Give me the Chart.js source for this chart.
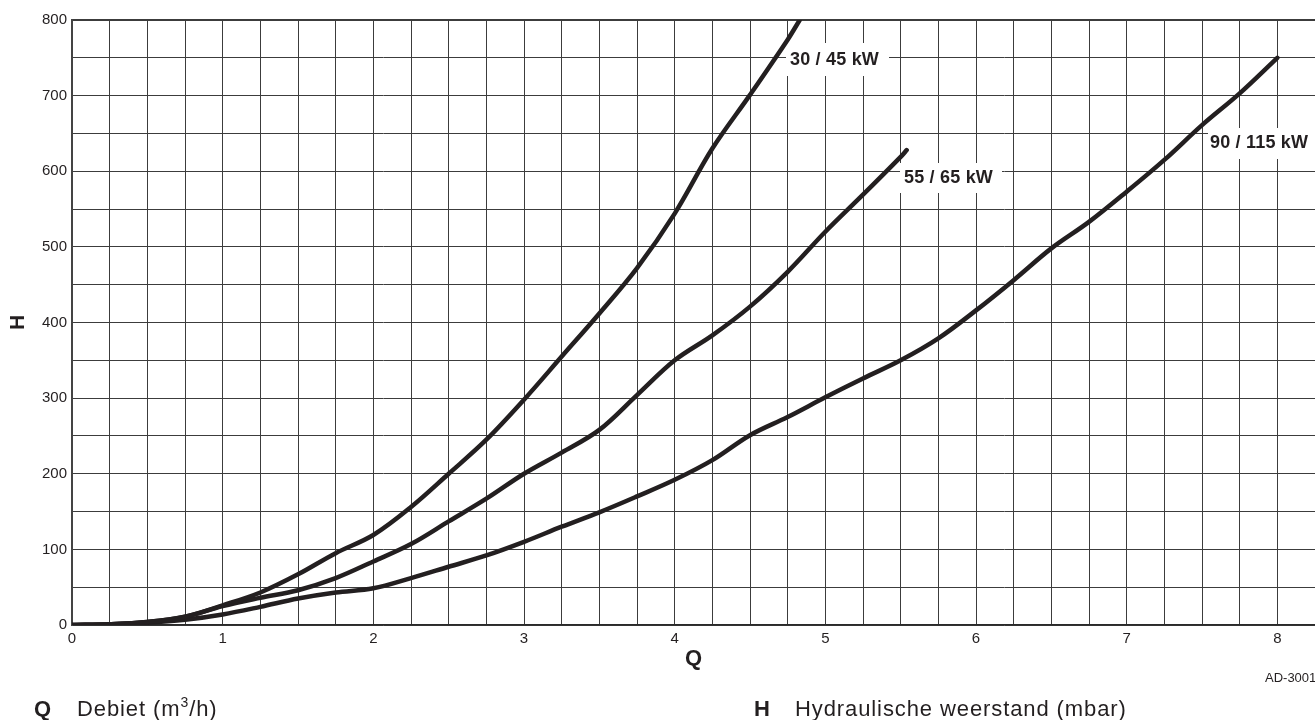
<!DOCTYPE html>
<html><head><meta charset="utf-8">
<script src="https://cdn.jsdelivr.net/npm/chart.js@4.4.1/dist/chart.umd.min.js"></script>
<style>
html,body{margin:0;padding:0;background:#fff;overflow:hidden;width:1315px;height:720px}
#wrap{position:relative;width:1320px;height:720px}
canvas{position:absolute;left:0;top:0}
.lbl{position:absolute;font-family:"Liberation Sans",Arial,sans-serif;font-weight:bold;font-size:18px;line-height:20px;color:#231f20;white-space:nowrap;letter-spacing:0.2px}
.leg{position:absolute;font-family:"Liberation Sans",Arial,sans-serif;font-size:22px;line-height:26px;color:#231f20;white-space:nowrap;letter-spacing:0.9px}
.leg b{font-weight:bold;letter-spacing:0}
sup{font-size:14px;line-height:0;vertical-align:9px}
</style></head>
<body>
<div id="wrap">
<canvas id="c" width="1320" height="720"></canvas>
<div class="lbl" style="left:790px;top:49px">30 / 45 kW</div>
<div class="lbl" style="left:904px;top:167px">55 / 65 kW</div>
<div class="lbl" style="left:1210px;top:132px">90 / 115 kW</div>
<div class="leg" style="left:34px;top:696px"><b>Q</b></div>
<div class="leg" style="left:77px;top:696px">Debiet (m<sup>3</sup>/h)</div>
<div class="leg" style="left:754px;top:696px"><b>H</b></div>
<div class="leg" style="left:795px;top:696px">Hydraulische weerstand (mbar)</div>
<div class="leg" style="left:1265px;top:670px;font-size:13px;line-height:16px;letter-spacing:0">AD-3001</div>
</div>
<script>
// Data
const flow30 = [0, 0.25, 0.5, 0.75, 1.0, 1.25, 1.5, 1.75, 2.0, 2.25, 2.5, 2.75, 3.0, 3.25, 3.5, 3.75, 4.0, 4.25, 4.5, 4.75, 4.83];
const head30 = [0, 1, 4, 11, 26, 43, 67, 95, 119, 156, 200, 245, 298, 355, 412, 472, 544, 630, 701, 774, 800];

const flow55 = [0, 0.25, 0.5, 0.75, 1.0, 1.25, 1.5, 1.75, 2.0, 2.25, 2.5, 2.75, 3.0, 3.25, 3.5, 3.75, 4.0, 4.25, 4.5, 4.75, 5.0, 5.25, 5.5, 5.54];
const head55 = [0, 1, 4, 11, 25, 36, 46, 62, 84, 107, 137, 167, 200, 228, 258, 304, 350, 383, 421, 467, 520, 569, 619, 628];

const flow90 = [0, 0.25, 0.5, 0.75, 1.0, 1.25, 1.5, 1.75, 2.0, 2.25, 2.5, 2.75, 3.0, 3.25, 3.5, 3.75, 4.0, 4.25, 4.5, 4.75, 5.0, 5.25, 5.5, 5.75, 6.0, 6.25, 6.5, 6.75, 7.0, 7.25, 7.5, 7.75, 8.0];
const head90 = [0, 1, 3, 7, 14, 24, 35, 43, 48.5, 62, 77, 92, 110, 130, 149, 170, 192, 218, 251, 275, 301, 326, 350, 379, 416, 456, 498, 533, 573, 615, 661, 703, 750];

const seriesNames = ['30 / 45 kW', '55 / 65 kW', '90 / 115 kW'];
const xAxisTitle = 'Q';
const yAxisTitle = 'H';

const FONT = '"Liberation Sans", Arial, sans-serif';
const INK = '#231f20';
const GRID = '#3c3c3c';

function pts(xs, ys) { return xs.map((x, i) => ({x: x, y: ys[i]})); }
function ds(label, xs, ys) {
  return {
    label: label, data: pts(xs, ys),
    borderColor: INK, borderWidth: 4.5, pointRadius: 0, fill: false,
    tension: 0.35,
    borderCapStyle: 'round', borderJoinStyle: 'round'
  };
}

// white backgrounds behind the curve labels (drawn over the grid, under the curves)
const labelBackgrounds = {
  id: 'labelBackgrounds',
  beforeDatasetsDraw(chart) {
    const ctx = chart.ctx;
    ctx.save();
    ctx.fillStyle = '#fff';
    ctx.fillRect(786, 43, 103, 33);
    ctx.fillRect(900, 163, 102, 30);
    ctx.fillRect(1208, 128, 112, 31);
    ctx.restore();
  }
};

new Chart(document.getElementById('c'), {
  type: 'line',
  data: {
    datasets: [
      ds(seriesNames[0], flow30, head30),
      ds(seriesNames[1], flow55, head55),
      ds(seriesNames[2], flow90, head90)
    ]
  },
  plugins: [labelBackgrounds],
  options: {
    responsive: false,
    devicePixelRatio: 1,
    animation: false,
    layout: {padding: {top: 20, left: 0, right: 0, bottom: 0}},
    plugins: {legend: {display: false}, tooltip: {enabled: false}},
    scales: {
      x: {
        type: 'linear', min: 0, max: 8.25,
        afterFit: function (s) { s.height = 95; },
        ticks: {
          stepSize: 0.25, autoSkip: false, maxRotation: 0, minRotation: 0, padding: 5,
          color: INK, font: {family: FONT, size: 15},
          callback: function (v) { return Number.isInteger(v) ? String(v) : ''; }
        },
        grid: {color: GRID, lineWidth: 1, drawTicks: false},
        border: {color: '#2a2a2a', width: 1.5},
        title: {display: true, text: xAxisTitle, color: INK,
          font: {family: FONT, size: 22, weight: 'bold'}, padding: {top: 0, bottom: 48}}
      },
      y: {
        min: 0, max: 800,
        afterFit: function (s) { s.width = 72; },
        ticks: {
          stepSize: 50, padding: 5, color: INK, font: {family: FONT, size: 15},
          callback: function (v) { return v % 100 === 0 ? String(v) : ''; }
        },
        grid: {color: GRID, drawTicks: false,
          lineWidth: function (c) { return c.tick && c.tick.value === 800 ? 2 : 1; }},
        border: {color: '#444', width: 2},
        title: {display: true, text: yAxisTitle, color: INK,
          font: {family: FONT, size: 21, weight: 'bold'}, padding: {top: 6, bottom: 0}}
      }
    }
  }
});
</script>
</body></html>
